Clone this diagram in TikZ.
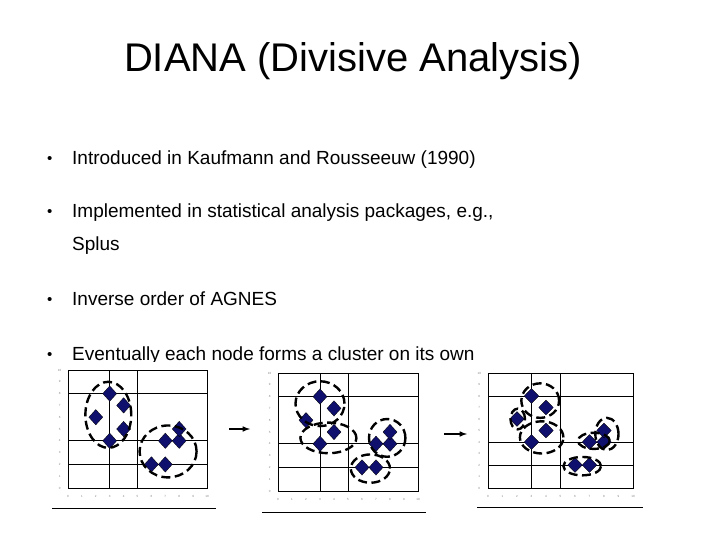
\documentclass[tikz,border=0pt]{standalone}
\usepackage{fontspec}
\setmainfont{Liberation Sans}
\begin{document}
\begin{tikzpicture}[x=1pt,y=-1pt,
  txt/.style={anchor=base west,inner sep=0,font=\fontsize{19}{24}\selectfont},
  bul/.style={anchor=base west,inner sep=0,font=\fontsize{15}{16}\selectfont},
  grid/.style={line width=0.8pt},
  pt/.style={fill={rgb,255:red,15;green,15;blue,110},draw=black,line width=0.3pt},
  ring/.style={draw,line width=2.4pt,dash pattern=on 9pt off 4.5pt},
  tick/.style={font=\fontsize{3}{3}\selectfont,text=gray,inner sep=0},
  arr/.style={-latex,line width=1.5pt}]
\useasboundingbox (0,0) rectangle (720,540);
\fill[white] (0,0) rectangle (720,540);
\node[anchor=base,inner sep=0,font=\fontsize{40}{44}\selectfont] (title) at (353,72) {DIANA (Divisive Analysis)};
\node[bul] (b1) at (47,164) {•};
\node[txt] (t1) at (72,165) {Introduced in Kaufmann and Rousseeuw (1990)};
\node[bul] (b2) at (47,217) {•};
\node[txt] (t2) at (72,218) {Implemented in statistical analysis packages, e.g.,};
\node[txt] (t2b) at (72,250) {Splus};
\node[bul] (b3) at (47,304) {•};
\node[txt] (t3) at (72,305) {Inverse order of AGNES};
\node[bul] (b4) at (47,359) {•};
\node[txt] (t4) at (72,360) {Eventually each node forms a cluster on its own};
% white plot areas
\fill[white] (55,362) rectangle (225,500);
\fill[white] (265,364) rectangle (436,502);
\fill[white] (478,364) rectangle (645,500);
\newcommand{\myplot}[5]{%
 \begin{scope}[shift={(#1,#2)},x=#3pt,y=#4pt]
  \draw[grid] (0,0) rectangle (10,10);
  \draw[grid] (3,0)--(3,10) (5,0)--(5,10) (0,2)--(10,2) (0,4)--(10,4) (0,8)--(10,8);
  \foreach \i in {0,...,10}{\node[tick] at (\i,-0.7) {\i}; \node[tick] at (-0.6,\i) {\i};}
  \foreach \p in {(3,8),(4,7),(2,6),(4,5),(3,4),(7,4),(8,4),(8,5),(6,2),(7,2)}
   \fill[pt] \p ++(0,0.65) -- ++(0.5,-0.65) -- ++(-0.5,-0.65) -- ++(-0.5,0.65) -- cycle;
  #5
 \end{scope}}
\myplot{68}{488}{13.9}{11.8}{
  \draw[ring] (2.9,6.2) ellipse [x radius=1.65, y radius=2.8];
  \draw[ring] (7.2,3.1) ellipse [x radius=2.05, y radius=2.2];}
\myplot{278}{491}{14}{11.8}{
  \draw[ring] (3,7.4) ellipse [x radius=1.75, y radius=1.9];
  \draw[ring] (3.6,4.5) ellipse [x radius=2, y radius=1.3];
  \draw[ring] (7.8,4.5) ellipse [x radius=1.3, y radius=1.6];
  \draw[ring] (6.6,1.9) ellipse [x radius=1.4, y radius=1.2];}
\myplot{488}{488}{14.5}{11.5}{
  \draw[ring] (2.05,6) ellipse [x radius=0.5, y radius=0.9];
  \draw[ring] (3.6,7.6) ellipse [x radius=1.3, y radius=1.5];
  \draw[ring] (3.7,4.4) ellipse [x radius=1.5, y radius=1.4];
  \draw[ring] (7.3,4.1) ellipse [x radius=1.1, y radius=0.7];
  \draw[ring] (8.2,4.7) ellipse [x radius=0.8, y radius=1.4];
  \draw[ring] (6.5,1.9) ellipse [x radius=1.3, y radius=0.8];}
\draw[line width=0.8pt] (52,508) coordinate (u1a) -- (216,508) coordinate (u1b);
\draw[line width=0.8pt] (262,512) coordinate (u2a) -- (426,512) coordinate (u2b);
\draw[line width=0.8pt] (477,507) coordinate (u3a) -- (643,507) coordinate (u3b);
\coordinate (a1s) at (229,429); \coordinate (a1e) at (250,429);
\coordinate (a2s) at (444,434); \coordinate (a2e) at (467,434);
\draw[arr] (a1s) -- (a1e);
\draw[arr] (a2s) -- (a2e);
\end{tikzpicture}
\end{document}
